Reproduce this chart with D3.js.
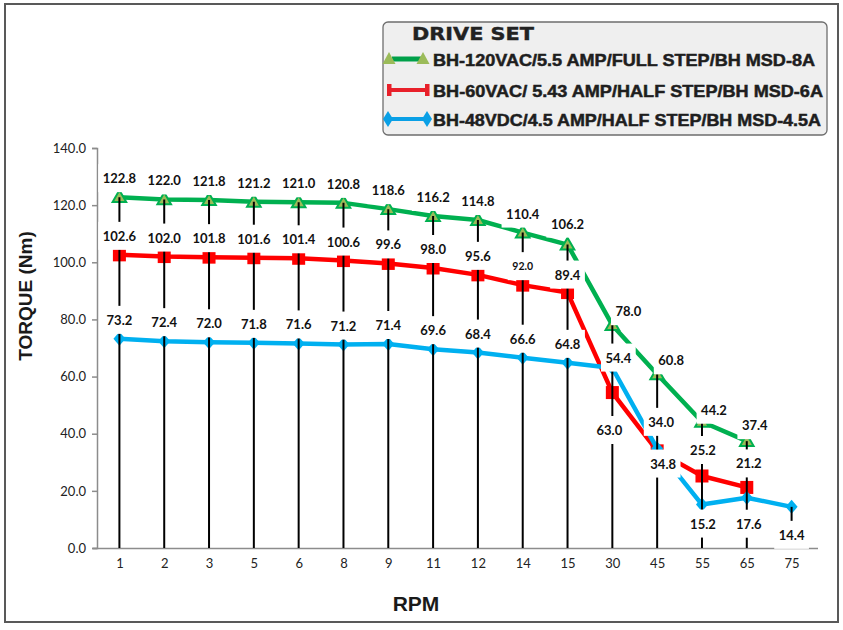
<!DOCTYPE html>
<html>
<head>
<meta charset="utf-8">
<script src="https://cdn.jsdelivr.net/npm/d3@7"></script>
<style>
  html, body { margin: 0; padding: 0; background: #fff; }
  svg { display: block; }
</style>
</head>
<body>
<svg id="chart" width="843" height="630"></svg>
<script>
// ---- data ----
const categories = ["1","2","3","5","6","8","9","11","12","14","15","30","45","55","65","75"];
const greenValues = [122.8,122.0,121.8,121.2,121.0,120.8,118.6,116.2,114.8,110.4,106.2,78.0,60.8,44.2,37.4,null];
const redValues   = [102.6,102.0,101.8,101.6,101.4,100.6,99.6,98.0,95.6,92.0,89.4,54.4,34.0,25.2,21.2,null];
const blueValues  = [73.2,72.4,72.0,71.8,71.6,71.2,71.4,69.6,68.4,66.6,64.8,63.0,34.8,15.2,17.6,14.4];
const seriesNames = [
  "BH-120VAC/5.5 AMP/FULL STEP/BH MSD-8A",
  "BH-60VAC/ 5.43 AMP/HALF STEP/BH MSD-6A",
  "BH-48VDC/4.5 AMP/HALF STEP/BH MSD-4.5A"
];
const yTickValues = [0,20,40,60,80,100,120,140];
const legendTitle = "DRIVE SET";
const xTitle = "RPM";
const yTitle = "TORQUE (Nm)";

// ---- styling / layout (kept apart from data) ----
const colors = { green: "#00B050", greenFill: "#9BBB59", red: "#FF0000", blue: "#00B0F0" };
// label nudges (dx, dy relative to the point), default dy = -19
const labelNudge = {
  g: { "15": [0,-21], "30": [16,-14], "45": [14,-14], "55": [12,-12], "65": [8,-16] },
  r: { "15": [0,-18], "30": [6,-35], "45": [4,-29], "55": [1,-26], "65": [2,-24] },
  b: { "30": [-3,62], "45": [6,15], "55": [1,19], "65": [2,26], "75": [0,28] }
};
const smallLabels = { r: ["14"] };

const svg = d3.select("#chart");

// outer border
svg.append("rect").attr("x",5).attr("y",4).attr("width",833).attr("height",618)
  .attr("fill","#fff").attr("stroke","#595959").attr("stroke-width",2);

const x = d3.scalePoint().domain(categories).range([97, 814]).padding(0.5);
const y = d3.scaleLinear().domain([0,140]).range([548,148]);

// y axis
const yAxis = svg.append("g").attr("transform","translate(97,0)")
  .call(d3.axisLeft(y).tickValues(yTickValues).tickFormat(d3.format(".1f")).tickSize(5).tickPadding(6));
yAxis.select(".domain").attr("stroke","#8c8c8c").attr("stroke-width",1.5);
yAxis.selectAll(".tick line").attr("stroke","#8c8c8c").attr("stroke-width",1.5);
yAxis.selectAll(".tick text").attr("font-family","Lato, 'Open Sans', sans-serif")
  .attr("font-size","13px").attr("fill","#222");

// x axis
const xAxis = svg.append("g").attr("transform","translate(0,548)")
  .call(d3.axisBottom(x).tickSize(0).tickPadding(11));
xAxis.select(".domain").attr("d","M93,0.5H818").attr("stroke","#8c8c8c").attr("stroke-width",1.5);
xAxis.selectAll(".tick text").attr("font-family","Lato, 'Open Sans', sans-serif")
  .attr("font-size","13px").attr("fill","#222");

// axis titles
svg.append("text").attr("transform","translate(32,296) rotate(-90)")
  .attr("text-anchor","middle").attr("font-family","'Liberation Sans', Arial, sans-serif")
  .attr("font-weight","bold").attr("font-size","19px").attr("fill","#1a1a1a").text(yTitle);
svg.append("text").attr("x",416).attr("y",611)
  .attr("text-anchor","middle").attr("font-family","'Liberation Sans Narrow', 'Liberation Sans', Arial, sans-serif")
  .attr("font-weight","bold").attr("font-size","21px").attr("fill","#1a1a1a").text(xTitle);

const series = [
  { key: "g", values: greenValues, color: colors.green },
  { key: "r", values: redValues, color: colors.red },
  { key: "b", values: blueValues, color: colors.blue }
];

const line = d3.line()
  .defined(d => d.v !== null)
  .x(d => x(d.c)).y(d => y(d.v));

const plot = svg.append("g");
series.forEach(s => {
  const pts = categories.map((c,i) => ({ c, v: s.values[i] }));
  plot.append("path").datum(pts).attr("d", line)
    .attr("fill","none").attr("stroke", s.color).attr("stroke-width",4.5)
    .attr("stroke-linejoin","round");
  const valid = pts.filter(d => d.v !== null);
  const g = plot.append("g");
  if (s.key === "g") {
    g.selectAll("path").data(valid).join("path")
      .attr("d", d3.symbol().type(d3.symbolTriangle).size(80))
      .attr("transform", d => `translate(${x(d.c)},${y(d.v)+1})`)
      .attr("fill", colors.greenFill).attr("stroke", colors.green).attr("stroke-width",2);
  } else if (s.key === "r") {
    g.selectAll("rect").data(valid).join("rect")
      .attr("x", d => x(d.c)-6.5).attr("y", d => y(d.v)-6.5)
      .attr("width",13).attr("height",13).attr("fill", colors.red);
  } else {
    g.selectAll("path").data(valid).join("path")
      .attr("d","M0,-7L6,0L0,7L-6,0Z")
      .attr("transform", d => `translate(${x(d.c)},${y(d.v)})`)
      .attr("fill", colors.blue);
  }
});

// drop lines from highest point to axis
const maxByCat = categories.map((c,i) => ({
  c, v: d3.max([greenValues[i], redValues[i], blueValues[i]].filter(v => v !== null))
}));
svg.append("g").selectAll("line").data(maxByCat).join("line")
  .attr("x1", d => x(d.c)).attr("x2", d => x(d.c))
  .attr("y1", d => y(d.v)).attr("y2", y(0))
  .attr("stroke","#000").attr("stroke-width",2);

// data labels
const labelLayer = svg.append("g");
series.forEach(s => {
  categories.forEach((c,i) => {
    const v = s.values[i];
    if (v === null) return;
    const nudge = (labelNudge[s.key] && labelNudge[s.key][c]) || [0,-19];
    const small = smallLabels[s.key] && smallLabels[s.key].includes(c);
    const cx = x(c) + nudge[0], cy = y(v) + nudge[1];
    const g = labelLayer.append("g");
    const t = g.append("text").attr("x",cx).attr("y",cy)
      .attr("text-anchor","middle").attr("dominant-baseline","central")
      .attr("font-family","Lato, 'Open Sans', sans-serif").attr("font-weight","bold")
      .attr("font-size", small ? "10.5px" : "13px").attr("fill","#111")
      .text(d3.format(".1f")(v));
    const w = t.node().getComputedTextLength() + 9;
    g.insert("rect","text").attr("x",cx-w/2).attr("y",cy-14).attr("width",w).attr("height",28)
      .attr("fill","#fff");
  });
});

// legend
const lg = svg.append("g");
lg.append("rect").attr("x",383).attr("y",22).attr("width",444).attr("height",113)
  .attr("rx",5).attr("ry",5).attr("fill","#efefef").attr("stroke","#6e6e6e").attr("stroke-width",1.3);
lg.append("text").attr("x",412).attr("y",40)
  .attr("font-family","'DejaVu Sans', 'Liberation Sans', sans-serif").attr("font-weight","bold")
  .attr("font-size","18px").attr("textLength",122).attr("lengthAdjust","spacingAndGlyphs")
  .attr("fill","#222").attr("stroke","#222").attr("stroke-width",0.4).text(legendTitle);
const legendRows = [
  { y: 59, w: 382 }, { y: 90, w: 390 }, { y: 119, w: 388 }
];
legendRows.forEach((r,i) => {
  lg.append("text").attr("x",433).attr("y",r.y+7)
    .attr("font-family","'Liberation Sans', Arial, sans-serif").attr("font-weight","bold")
    .attr("font-size","16.5px").attr("textLength",r.w).attr("lengthAdjust","spacingAndGlyphs")
    .attr("fill","#1e1e1e").attr("stroke","#1e1e1e").attr("stroke-width",0.5)
    .text(seriesNames[i]);
});
// green legend marker
lg.append("line").attr("x1",392).attr("x2",424).attr("y1",59).attr("y2",59)
  .attr("stroke","#00A04A").attr("stroke-width",5);
[389,423].forEach(px => lg.append("path").attr("d",`M${px},${52}L${px+6.5},${64}L${px-6.5},${64}Z`)
  .attr("fill",colors.greenFill));
// red legend marker
lg.append("line").attr("x1",390).attr("x2",427).attr("y1",90).attr("y2",90)
  .attr("stroke","#E8202A").attr("stroke-width",4);
[387,425].forEach(px => lg.append("rect").attr("x",px).attr("y",84).attr("width",4.5).attr("height",12)
  .attr("fill","#E8202A"));
// blue legend marker
lg.append("line").attr("x1",389).attr("x2",427).attr("y1",119).attr("y2",119)
  .attr("stroke","#0AA0E6").attr("stroke-width",4);
[388,427].forEach(px => lg.append("path").attr("d",`M${px},111L${px+5},119L${px},127L${px-5},119Z`)
  .attr("fill","#0AA0E6"));
</script>
</body>
</html>
